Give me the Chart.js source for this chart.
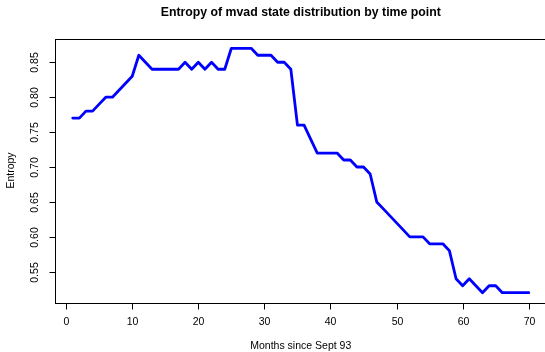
<!DOCTYPE html>
<html><head><meta charset="utf-8">
<script src="https://cdn.jsdelivr.net/npm/chart.js@4/dist/chart.umd.min.js"></script>
<style>
html,body{margin:0;padding:0;background:#fff;overflow:hidden;width:545px;height:352px}
#wrap{position:absolute;left:0;top:0;width:560px;height:352px}
</style>
</head><body><div id="wrap"><canvas id="c" width="560" height="352"></canvas></div>
<script>
const months = [1,2,3,4,5,6,7,8,9,10,11,12,13,14,15,16,17,18,19,20,21,22,23,24,25,26,27,28,29,30,31,32,33,34,35,36,37,38,39,40,41,42,43,44,45,46,47,48,49,50,51,52,53,54,55,56,57,58,59,60,61,62,63,64,65,66,67,68,69,70];
const entropy = [0.77,0.77,0.78,0.78,0.79,0.80,0.80,0.81,0.82,0.83,
                 0.86,0.85,0.84,0.84,0.84,0.84,0.84,0.85,0.84,0.85,
                 0.84,0.85,0.84,0.84,0.87,0.87,0.87,0.87,0.86,0.86,
                 0.86,0.85,0.85,0.84,0.76,0.76,0.74,0.72,0.72,0.72,
                 0.72,0.71,0.71,0.70,0.70,0.69,0.65,0.64,0.63,0.62,
                 0.61,0.60,0.60,0.60,0.59,0.59,0.59,0.58,0.54,0.53,
                 0.54,0.53,0.52,0.53,0.53,0.52,0.52,0.52,0.52,0.52];
const xTickValues = [0,10,20,30,40,50,60,70];
const xTickLabels = ['0','10','20','30','40','50','60','70'];
const yTickValues = [0.55,0.60,0.65,0.70,0.75,0.80,0.85];
const yTickLabels = ['0.55','0.60','0.65','0.70','0.75','0.80','0.85'];
const titleText = 'Entropy of mvad state distribution by time point';
const xLabel = 'Months since Sept 93';
const yLabel = 'Entropy';

const FONT = '"Liberation Sans", Arial, Helvetica, sans-serif';

const rAxes = {
  id: 'rAxes',
  afterDraw(chart) {
    const ctx = chart.ctx;
    const a = chart.chartArea;
    const xs = chart.scales.x, ys = chart.scales.y;
    ctx.save();
    ctx.strokeStyle = '#000';
    ctx.fillStyle = '#000';
    ctx.lineWidth = 1;
    const L = Math.round(a.left) + 0.5, R = Math.round(a.right) + 0.5;
    const T = Math.round(a.top) + 0.5, B = Math.round(a.bottom) + 0.5;
    ctx.strokeRect(L, T, R - L, B - T);
    // x ticks
    ctx.font = '10.5px ' + FONT;
    ctx.textAlign = 'center';
    ctx.textBaseline = 'middle';
    xTickValues.forEach((v, i) => {
      const px = Math.round(xs.getPixelForValue(v)) + 0.5;
      ctx.beginPath(); ctx.moveTo(px, B); ctx.lineTo(px, B + 6); ctx.stroke();
      ctx.fillText(xTickLabels[i], px, B + 19);
    });
    // y ticks
    yTickValues.forEach((v, i) => {
      const py = Math.round(ys.getPixelForValue(v)) + 0.5;
      ctx.beginPath(); ctx.moveTo(L, py); ctx.lineTo(L - 6, py); ctx.stroke();
      ctx.save();
      ctx.translate(a.left - 19, py);
      ctx.rotate(-Math.PI / 2);
      ctx.fillText(yTickLabels[i], 0, 0);
      ctx.restore();
    });
    // axis titles
    const cx = (a.left + a.right) / 2;
    ctx.fillText(xLabel, cx, 346);
    ctx.save();
    ctx.translate(11, (a.top + a.bottom) / 2);
    ctx.rotate(-Math.PI / 2);
    ctx.fillText(yLabel, 0, 0);
    ctx.restore();
    ctx.font = 'bold 12.3px ' + FONT;
    ctx.fillText(titleText, cx, 12.5);
    ctx.restore();
  }
};

new Chart(document.getElementById('c'), {
  type: 'line',
  data: {
    datasets: [{
      data: months.map((m, i) => ({x: m, y: entropy[i]})),
      borderColor: '#0000FF',
      borderWidth: 2.8,
      pointRadius: 0,
      tension: 0,
      fill: false,
      borderJoinStyle: 'round',
      borderCapStyle: 'round'
    }]
  },
  options: {
    responsive: false,
    animation: false,
    devicePixelRatio: 1,
    layout: {padding: {left: 54.5, right: 13, top: 38.5, bottom: 49.5}},
    plugins: {legend: {display: false}, title: {display: false}, tooltip: {enabled: false}},
    scales: {
      x: {type: 'linear', display: false, min: -1.76, max: 72.76},
      y: {type: 'linear', display: false, min: 0.506, max: 0.884}
    }
  },
  plugins: [rAxes]
});
</script>
</body></html>
